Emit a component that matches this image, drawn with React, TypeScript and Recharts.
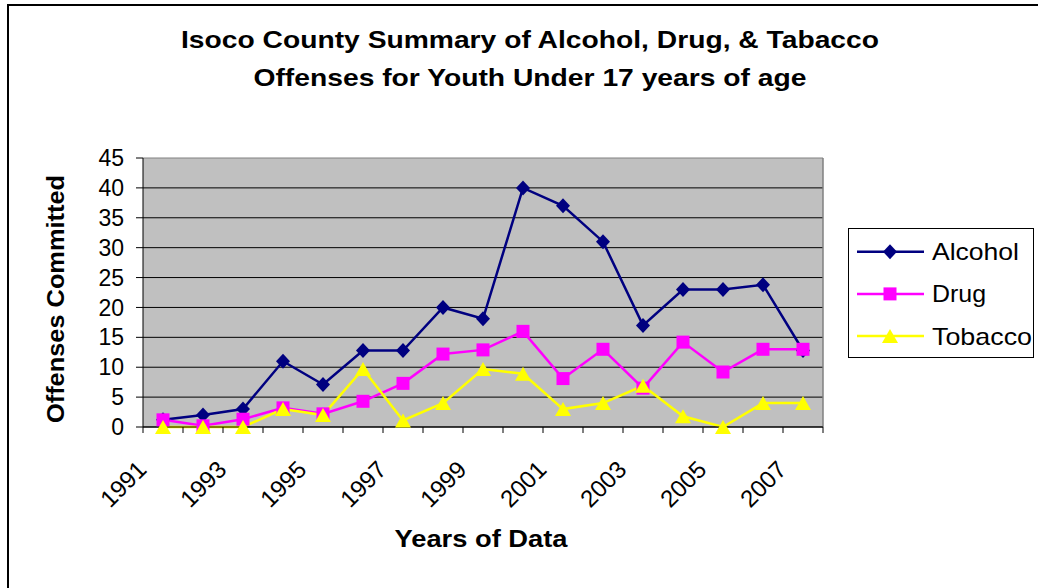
import React from 'react';
import { LineChart, Line, XAxis, YAxis, CartesianGrid, Legend } from 'recharts';

const years = ['1991', '1992', '1993', '1994', '1995', '1996', '1997', '1998', '1999',
  '2000', '2001', '2002', '2003', '2004', '2005', '2006', '2007'];
const alcohol = [1.2, 2, 3, 11, 7.1, 12.8, 12.8, 20, 18.1, 40, 37, 31, 17, 23, 23, 23.8, 12.8];
const drug = [1.2, 0.2, 1.3, 3.2, 2.2, 4.3, 7.3, 12.2, 12.9, 16, 8.1, 13, 6.5, 14.2, 9.2, 13, 13];
const tobacco = [0, 0, 0, 3, 2, 9.7, 1.1, 4, 9.7, 8.9, 3, 4, 6.9, 1.8, 0, 4, 4];
const yTicks = [0, 5, 10, 15, 20, 25, 30, 35, 40, 45];

const data = years.map((year, i) => ({
  year,
  Alcohol: alcohol[i],
  Drug: drug[i],
  Tobacco: tobacco[i],
}));

const FONT = '"Liberation Sans", Arial, sans-serif';
const W = 1038;
const H = 588;
const PLOT = { left: 143, top: 158, right: 823, bottom: 427 };
const BAND = (PLOT.right - PLOT.left) / years.length;

const SERIES = [
  { key: 'Alcohol', color: '#000080', shape: 'diamond', textWidth: 87 },
  { key: 'Drug', color: '#FF00FF', shape: 'square', textWidth: 54 },
  { key: 'Tobacco', color: '#FFFF00', shape: 'triangle', textWidth: 100 },
];

const Marker = ({ shape, cx, cy, color }: any) => {
  if (cx == null || cy == null) return null;
  if (shape === 'diamond') {
    return <path d={`M${cx},${cy - 7.5}L${cx + 7},${cy}L${cx},${cy + 7.5}L${cx - 7},${cy}Z`} fill={color} />;
  }
  if (shape === 'square') {
    return <rect x={cx - 6.5} y={cy - 6.5} width={13} height={13} fill={color} />;
  }
  return <path d={`M${cx},${cy - 7}L${cx + 8},${cy + 7}L${cx - 8},${cy + 7}Z`} fill={color} />;
};

// ticks sit between categories, labels only on every other year
const XTick = (props: any) => {
  const { x, y, payload } = props;
  const i = props.index ?? payload?.index ?? 0;
  const tx = x - 15;
  const ty = y + 44;
  return (
    <g>
      <line x1={x - BAND / 2} y1={y} x2={x - BAND / 2} y2={y + 6} stroke="#000" />
      {i === years.length - 1 && (
        <line x1={x + BAND / 2} y1={y} x2={x + BAND / 2} y2={y + 6} stroke="#000" />
      )}
      {i % 2 === 0 && (
        <text x={tx} y={ty} textAnchor="end" transform={`rotate(-45 ${tx} ${ty})`}
          fontSize={24} fontFamily={FONT} fill="#000">
          {payload.value}
        </text>
      )}
    </g>
  );
};

const LegendBox = () => (
  <div style={{ width: 186, height: 130, border: '1px solid #000', boxSizing: 'border-box', background: '#fff' }}>
    <svg width={184} height={128} style={{ display: 'block' }}>
      {SERIES.map((s, i) => {
        const cy = 22.7 + i * 42.2;
        return (
          <g key={s.key}>
            <line x1={8} y1={cy} x2={75} y2={cy} stroke={s.color} strokeWidth={2.5} />
            <Marker shape={s.shape} cx={41} cy={cy} color={s.color} />
            <text x={83} y={cy + 8.5} fontSize={24} fontFamily={FONT} fill="#000"
              textLength={s.textWidth} lengthAdjust="spacingAndGlyphs">
              {s.key}
            </text>
          </g>
        );
      })}
    </svg>
  </div>
);

const App = () => {
  return (
    <div style={{ position: 'absolute', left: 0, top: 0, width: W, height: H, background: '#fff', overflow: 'hidden' }}>
      <div style={{ position: 'absolute', left: 7, top: 4, width: W + 20, height: H + 20, borderLeft: '2px solid #000', borderTop: '2px solid #000' }} />
      <LineChart
        width={W}
        height={H}
        data={data}
        margin={{ top: PLOT.top, right: W - PLOT.right, left: 0, bottom: 0 }}
      >
        <CartesianGrid
          fill="#C0C0C0"
          fillOpacity={1}
          horizontal={(p: any) => {
            const top = p.y != null && Math.abs(p.y1 - p.y) < 1;
            return <line key={p.key} x1={p.x1} y1={p.y1} x2={p.x2} y2={p.y2} stroke={top ? '#808080' : '#000'} strokeWidth={1} />;
          }}
          vertical={(p: any) => (
            <line key={p.key} x1={p.x1} y1={p.y1} x2={p.x2} y2={p.y2} stroke="#808080" strokeWidth={1.5} />
          )}
          verticalCoordinatesGenerator={(args: any) => (args && args.offset ? [args.offset.left + args.offset.width] : [])}
        />
        <XAxis
          dataKey="year"
          interval={0}
          height={H - PLOT.bottom}
          tickSize={0}
          tickMargin={0}
          tickLine={false}
          axisLine={{ stroke: '#000' }}
          padding={{ left: BAND / 2, right: BAND / 2 }}
          tick={(p: any) => <XTick {...p} />}
        />
        <YAxis
          domain={[0, 45]}
          ticks={yTicks}
          interval={0}
          width={PLOT.left}
          tickSize={7}
          tickMargin={12}
          tickLine={{ stroke: '#000' }}
          axisLine={{ stroke: '#000' }}
          tick={{ fill: '#000', fontSize: 23, fontFamily: FONT }}
        />
        {SERIES.map((s) => (
          <Line
            key={s.key}
            type="linear"
            dataKey={s.key}
            stroke={s.color}
            strokeWidth={2.5}
            isAnimationActive={false}
            dot={(p: any) => <Marker key={`${s.key}-${p.index}`} shape={s.shape} cx={p.cx} cy={p.cy} color={s.color} />}
            activeDot={false}
          />
        ))}
        <Legend
          layout="vertical"
          align="center"
          verticalAlign="middle"
          wrapperStyle={{ left: 848, top: 228, width: 186, height: 130 }}
          content={() => <LegendBox />}
        />
      </LineChart>
      <svg width={W} height={H} style={{ position: 'absolute', left: 0, top: 0, pointerEvents: 'none' }}>
        <g fontFamily={FONT} fontWeight="bold" fill="#000">
          <text x={530} y={48} fontSize={24} textAnchor="middle" textLength={698} lengthAdjust="spacingAndGlyphs">
            Isoco County Summary of Alcohol, Drug, &amp; Tabacco
          </text>
          <text x={530} y={86} fontSize={24} textAnchor="middle" textLength={553} lengthAdjust="spacingAndGlyphs">
            Offenses for Youth Under 17 years of age
          </text>
          <text x={481} y={547} fontSize={24} textAnchor="middle" textLength={173} lengthAdjust="spacingAndGlyphs">
            Years of Data
          </text>
          <text x={64} y={299} fontSize={24} textAnchor="middle" transform="rotate(-90 64 299)"
            textLength={248} lengthAdjust="spacingAndGlyphs">
            Offenses Committed
          </text>
        </g>
      </svg>
    </div>
  );
};

export default App;
